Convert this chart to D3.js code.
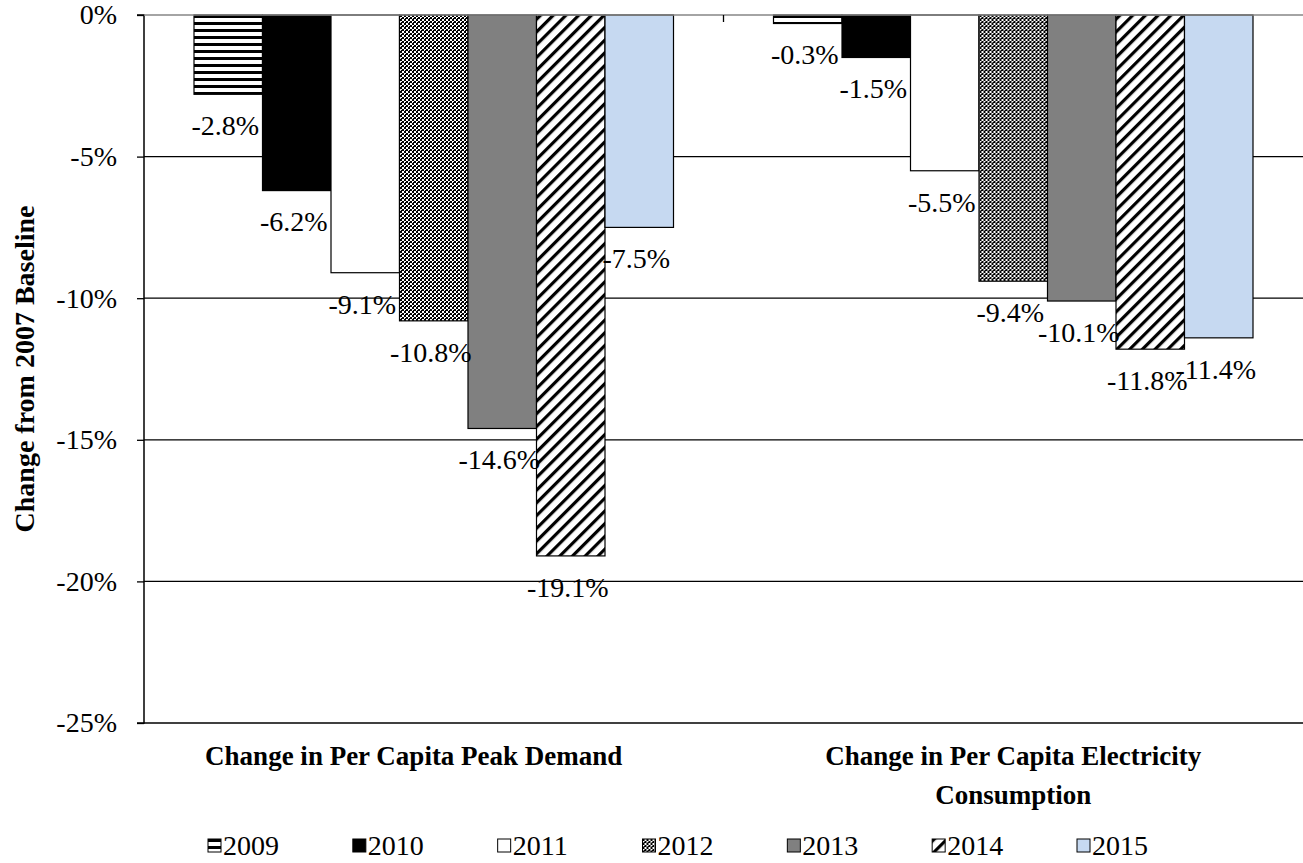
<!DOCTYPE html>
<html>
<head>
<meta charset="utf-8">
<script src="https://cdn.jsdelivr.net/npm/d3@7"></script>
<style>
  body { margin: 0; background: #fff; }
  svg text { font-family: "Liberation Serif", "Times New Roman", serif; fill: #000; }
</style>
</head>
<body>
<div id="chart"></div>
<script>
const categories = ["Change in Per Capita Peak Demand", "Change in Per Capita Electricity Consumption"];
const years = ["2009", "2010", "2011", "2012", "2013", "2014", "2015"];
const peakDemand = [-2.8, -6.2, -9.1, -10.8, -14.6, -19.1, -7.5];
const electricity = [-0.3, -1.5, -5.5, -9.4, -10.1, -11.8, -11.4];
const yTicks = [0, -5, -10, -15, -20, -25];

const width = 1303, height = 863;
const margin = { top: 15, right: 0, bottom: 140, left: 144 };
const innerW = width - margin.left - margin.right;
const innerH = height - margin.top - margin.bottom;
const fontSize = "28px";

const svg = d3.select("#chart").append("svg")
    .attr("width", width)
    .attr("height", height);

// patterns for the hatched series
const defs = svg.append("defs");

const hstripe = defs.append("pattern")
    .attr("id", "p2009").attr("patternUnits", "userSpaceOnUse")
    .attr("width", 8).attr("height", 7);
hstripe.append("rect").attr("width", 8).attr("height", 7).attr("fill", "#fff");
hstripe.append("rect").attr("y", 0).attr("width", 8).attr("height", 3).attr("fill", "#000");

const checker = defs.append("pattern")
    .attr("id", "p2012").attr("patternUnits", "userSpaceOnUse")
    .attr("width", 4).attr("height", 4);
checker.append("rect").attr("width", 4).attr("height", 4).attr("fill", "#fff");
checker.append("rect").attr("width", 2).attr("height", 2).attr("fill", "#000");
checker.append("rect").attr("x", 2).attr("y", 2).attr("width", 2).attr("height", 2).attr("fill", "#000");
checker.append("rect").attr("x", 1).attr("y", 3).attr("width", 1).attr("height", 1).attr("fill", "#000");

const diag = defs.append("pattern")
    .attr("id", "p2014").attr("patternUnits", "userSpaceOnUse")
    .attr("width", 9).attr("height", 9)
    .attr("patternTransform", "rotate(45)");
diag.append("rect").attr("width", 9).attr("height", 9).attr("fill", "#fff");
diag.append("rect").attr("width", 3.2).attr("height", 9).attr("fill", "#000");

const fills = ["url(#p2009)", "#000", "#fff", "url(#p2012)", "#808080", "url(#p2014)", "#c6d9f1"];

const g = svg.append("g")
    .attr("transform", `translate(${margin.left},${margin.top})`);

const y = d3.scaleLinear().domain([0, -25]).range([0, innerH]);
const x0 = d3.scaleBand().domain(categories).range([0, innerW]).paddingInner(0).paddingOuter(0);
const x1 = d3.scaleBand().domain(years).range([50, x0.bandwidth() - 50]);

// gridlines
g.selectAll(".grid")
    .data(yTicks.filter(d => d !== 0))
    .enter().append("line")
    .attr("x1", 0).attr("x2", innerW)
    .attr("y1", d => y(d)).attr("y2", d => y(d))
    .attr("stroke", "#000").attr("stroke-width", 1.3);

// y axis
const yAxis = d3.axisLeft(y)
    .tickValues(yTicks)
    .tickFormat(d => d + "%")
    .tickSize(7)
    .tickPadding(20);
const ya = g.append("g").call(yAxis);
ya.select(".domain").attr("stroke", "#000").attr("stroke-width", 1.5).attr("d", `M-7,0H0V${innerH}H-7`);
ya.selectAll(".tick line").attr("stroke", "#000").attr("stroke-width", 1.3);
ya.selectAll(".tick text").style("font-size", fontSize).style("font-family", "Liberation Serif, serif");

const data = categories.map((c, i) => ({
    category: c,
    values: (i === 0 ? peakDemand : electricity).map((v, j) => ({ year: years[j], value: v, idx: j }))
}));

const groups = g.selectAll(".grp")
    .data(data)
    .enter().append("g")
    .attr("transform", d => `translate(${x0(d.category)},0)`);

groups.selectAll("rect")
    .data(d => d.values)
    .enter().append("rect")
    .attr("x", d => x1(d.year))
    .attr("y", y(0))
    .attr("width", x1.bandwidth())
    .attr("height", d => y(d.value) - y(0))
    .attr("fill", d => fills[d.idx])
    .attr("stroke", "#000")
    .attr("stroke-width", 1.2);

groups.selectAll(".lbl")
    .data(d => d.values)
    .enter().append("text")
    .attr("x", d => x1(d.year) + x1.bandwidth() / 2 - 3)
    .attr("y", d => y(d.value) + 31)
    .attr("dy", "0.35em")
    .attr("text-anchor", "middle")
    .style("font-size", fontSize)
    .text(d => d.value.toFixed(1) + "%");

// category axis along the 0% line
g.append("line")
    .attr("x1", 0).attr("x2", innerW)
    .attr("y1", y(0)).attr("y2", y(0))
    .attr("stroke", "#868686").attr("stroke-width", 1.5);
g.append("line")
    .attr("x1", x0.bandwidth()).attr("x2", x0.bandwidth())
    .attr("y1", y(0)).attr("y2", y(0) + 7)
    .attr("stroke", "#000").attr("stroke-width", 1.3);

// category labels
const catLines = [["Change in Per Capita Peak Demand"], ["Change in Per Capita Electricity", "Consumption"]];
categories.forEach((c, i) => {
    const cx = x0(c) + x0.bandwidth() / 2 - (i === 0 ? 20 : 0);
    const t = g.append("text")
        .attr("x", cx)
        .attr("y", innerH + 42)
        .attr("text-anchor", "middle")
        .style("font-size", "27px")
        .style("font-weight", "bold");
    catLines[i].forEach((line, k) => {
        t.append("tspan")
            .attr("x", cx)
            .attr("dy", k === 0 ? 0 : 39)
            .text(line);
    });
});

// y axis title
svg.append("text")
    .attr("transform", `translate(34,${margin.top + innerH / 2}) rotate(-90)`)
    .attr("text-anchor", "middle")
    .style("font-size", "28px")
    .style("font-weight", "bold")
    .text("Change from 2007 Baseline");

// legend
const legX = d3.scalePoint().domain(years).range([208, 1077]);
const leg = svg.selectAll(".leg")
    .data(years)
    .enter().append("g")
    .attr("transform", d => `translate(${legX(d)},839)`);
leg.append("rect")
    .attr("width", 13).attr("height", 13)
    .attr("fill", (d, i) => fills[i])
    .attr("stroke", "#000").attr("stroke-width", 1);
leg.append("text")
    .attr("x", 15).attr("y", 6)
    .attr("dy", "0.35em")
    .style("font-size", fontSize)
    .text(d => d);
</script>
</body>
</html>
